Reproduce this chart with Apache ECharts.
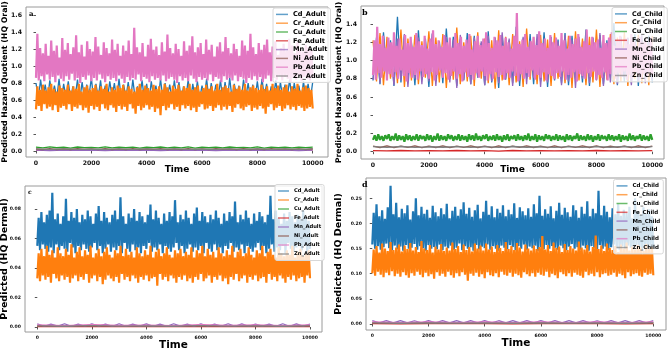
<!DOCTYPE html>
<html><head><meta charset="utf-8">
<script src="https://cdn.jsdelivr.net/npm/echarts@6/dist/echarts.min.js"></script>
<style>html,body{margin:0;padding:0;background:#fff}#c{width:668px;height:350px}</style>
</head><body><div id="c"></div><script>
// ---- tick labels ----
const xTicks = [0, 2000, 4000, 6000, 8000, 10000];
const aYTicks = [0.0, 0.2, 0.4, 0.6, 0.8, 1.0, 1.2, 1.4, 1.6];
const bYTicks = [0.0, 0.2, 0.4, 0.6, 0.8, 1.0, 1.2, 1.4];
const cYTicks = [0.00, 0.02, 0.04, 0.06, 0.08];
const dYTicks = [0.00, 0.05, 0.10, 0.15, 0.20, 0.25];
const metals = ['Cd', 'Cr', 'Cu', 'Fe', 'Mn', 'Ni', 'Pb', 'Zn'];

// ---- panel a: HQ Oral, Adult ----
const aCd = [0.80,0.61,0.84,0.63,0.78,0.60,0.83,0.64,0.77,0.62,0.85,0.59,0.79,0.63,0.82,0.61,0.76,0.64,0.84,0.60,0.81,0.62,0.78,0.65,0.86,0.61,0.79,0.63,0.83,0.60,0.77,0.62,0.82,0.64,0.80,0.59,0.85,0.61,0.78,0.63,0.81,0.60,0.84,0.62,0.76,0.64,0.83,0.61,0.79,0.58,0.82,0.63,0.77,0.60,0.85,0.62,0.80,0.64,0.78,0.61,0.83,0.63,0.81,0.60,0.76,0.62,0.84,0.59,0.79,0.63,0.82,0.61,0.77,0.64,0.85,0.60,0.80,0.62,0.78,0.63,0.83,0.61,0.81,0.59,0.86,0.62,0.79,0.64,0.77,0.60,0.84,0.63,0.80,0.61,0.78,0.62,0.82,0.60,0.85,0.64,0.79,0.61,0.76,0.63,0.83,0.60,0.81,0.62,0.78,0.64,0.84,0.61,0.80,0.63,0.77,0.60,0.82,0.62,0.79,0.61,0.81];
const aCr = [0.49,0.76,0.53,0.72,0.47,0.78,0.55,0.71,0.50,0.75,
 0.52,0.79,0.48,0.73,0.54,0.70,0.46,0.77,0.51,0.74,
 0.53,0.72,0.49,0.78,0.55,0.71,0.47,0.76,0.52,0.73,
 0.50,0.79,0.54,0.70,0.48,0.75,0.51,0.77,0.45,0.72,
 0.53,0.74,0.49,0.78,0.52,0.71,0.47,0.76,0.55,0.73,
 0.50,0.79,0.48,0.70,0.54,0.75,0.51,0.72,0.46,0.77,
 0.53,0.74,0.49,0.78,0.52,0.71,0.47,0.76,0.55,0.73,
 0.50,0.70,0.44,0.75,0.53,0.79,0.48,0.72,0.51,0.77,
 0.54,0.74,0.49,0.71,0.52,0.78,0.46,0.73,0.50,0.76,
 0.42,0.72,0.53,0.79,0.48,0.75,0.51,0.70,0.55,0.77,
 0.49,0.73,0.52,0.78,0.47,0.71,0.54,0.76,0.50,0.74,
 0.53,0.79,0.48,0.72,0.51,0.75,0.46,0.77,0.52,0.70,
 0.55,0.74,0.49,0.78,0.50,0.73,0.53,0.76,0.47,0.71,
 0.51,0.79,0.54,0.72,0.48,0.75,0.52,0.77,0.49,0.74,
 0.53,0.70,0.46,0.78,0.51,0.73,0.55,0.76,0.50,0.72,
 0.48,0.79,0.52,0.71,0.54,0.75,0.47,0.77,0.51,0.74,
 0.49,0.72,0.53,0.78,0.50,0.73,0.44,0.76,0.52,0.71,
 0.55,0.79,0.48,0.74,0.51,0.77,0.53,0.72,0.47,0.75,
 0.50,0.78,0.54,0.70,0.49,0.76,0.52,0.73,0.48,0.79,
 0.53,0.71,0.51,0.75,0.47,0.77,0.50,0.74,0.52,0.72,
 0.50];
const aCu = [0.045,0.036,0.048,0.038,0.044,0.035,0.047,0.039,0.043,0.036,0.049,0.037,0.045,0.038,0.046,0.035,0.044,0.039,0.047,0.036,0.045,0.037,0.048,0.035,0.044,0.038,0.046,0.036,0.047,0.039,0.043,0.037,0.048,0.035,0.045,0.038,0.046,0.036,0.044,0.039,0.045];
const aFe = [0.012,0.008,0.014,0.009,0.013,0.007,0.012,0.009,0.014,0.008,0.013,0.009,0.012,0.007,0.014,0.008,0.013,0.009,0.012,0.008,0.013];
const aMn = [0.010,0.006,0.011,0.007,0.012,0.006,0.010,0.008,0.011,0.006,0.012,0.007,0.010,0.006,0.011,0.008,0.012,0.007,0.010,0.006,0.011];
const aNi = [0.026,0.016,0.027,0.017,0.025,0.015,0.028,0.018,0.026,0.016,0.027,0.017,0.025,0.016,0.028,0.015,0.026,0.018,0.027,0.016,0.025,0.017,0.028,0.016,0.026,0.015,0.027,0.018,0.025,0.016,0.028,0.017,0.026,0.015,0.027,0.018,0.025,0.016,0.026,0.017,0.027];
const aPb = [0.86,1.38,0.83,1.21,0.88,1.15,0.82,1.26,0.90,1.12,
 0.84,1.30,0.87,1.18,0.81,1.24,0.89,1.10,0.85,1.33,
 0.82,1.19,0.88,1.27,0.84,1.14,0.91,1.22,0.83,1.36,
 0.86,1.16,0.80,1.25,0.87,1.11,0.84,1.29,0.89,1.20,
 0.82,1.17,0.86,1.34,0.83,1.23,0.90,1.13,0.85,1.28,
 0.81,1.21,0.88,1.15,0.84,1.31,0.86,1.19,0.82,1.26,
 0.89,1.12,0.85,1.24,0.80,1.18,0.87,1.30,0.83,1.14,
 0.86,1.45,0.84,1.22,0.90,1.16,0.82,1.27,0.87,1.11,
 0.85,1.25,0.81,1.32,0.88,1.19,0.84,1.23,0.86,1.13,
 0.83,1.28,0.89,1.17,0.82,1.37,0.85,1.21,0.87,1.15,
 0.84,1.26,0.80,1.20,0.88,1.12,0.83,1.29,0.86,1.18,
 0.82,1.24,0.89,1.35,0.85,1.16,0.81,1.22,0.87,1.27,
 0.84,1.14,0.86,1.31,0.83,1.19,0.90,1.25,0.82,1.11,
 0.87,1.23,0.85,1.28,0.81,1.17,0.88,1.34,0.84,1.21,
 0.86,1.15,0.83,1.26,0.89,1.20,0.82,1.12,0.87,1.30,
 0.85,1.24,0.80,1.18,0.86,1.38,0.84,1.22,0.88,1.14,
 0.83,1.27,0.87,1.19,0.81,1.25,0.85,1.31,0.89,1.16,
 0.82,1.23,0.86,1.29,0.84,1.13,0.88,1.21,0.83,1.26,
 0.87,1.18,0.85,1.32,0.81,1.24,0.86,1.15,0.84,1.28,
 0.89,1.20,0.82,1.17,0.87,1.25,0.85,1.22,0.83,1.19,
 0.86];
const aZn = [0.024,0.019,0.025,0.018,0.023,0.020,0.026,0.019,0.024,0.018,0.025,0.020,0.023,0.019,0.026,0.018,0.024,0.020,0.025,0.019,0.024];

// ---- panel b: HQ Oral, Child ----
const bCd = [0.78,1.25,0.74,1.31,0.80,1.22,0.72,1.48,0.76,1.28,0.81,1.20,0.73,1.33,0.79,1.24,0.71,1.29,0.77,1.21,0.75,1.35,0.80,1.26,0.72,1.23,0.78,1.30,0.74,1.27,0.81,1.19,0.73,1.32,0.76,1.25,0.70,1.28,0.79,1.22,0.75,1.37,0.72,1.24,0.80,1.29,0.74,1.21,0.77,1.31,0.71,1.26,0.78,1.23,0.75,1.30,0.73,1.27,0.80,1.20,0.76,1.34,0.72,1.25,0.79,1.28,0.74,1.22,0.81,1.41,0.73,1.26,0.77,1.24,0.75,1.29,0.72,1.21,0.78,1.27,0.76];
const bCr = [1.22,0.77,1.30,0.73,1.26,0.80,1.19,0.75,1.34,0.71,1.24,0.78,1.28,0.74,1.21,0.81,1.32,0.72,1.25,0.76,1.29,0.70,1.23,0.79,1.36,0.74,1.20,0.77,1.27,0.72,1.31,0.80,1.24,0.75,1.22,0.69,1.33,0.78,1.26,0.73,1.29,0.76,1.21,0.71,1.35,0.79,1.25,0.74,1.28,0.77,1.23,0.72,1.30,0.80,1.19,0.75,1.27,0.70,1.32,0.78,1.24,0.73,1.26,0.76,1.34,0.71,1.22,0.79,1.29,0.74,1.25,0.77,1.31,0.72,1.20,0.80,1.28,0.75,1.23,0.73,1.27];
const bCu = [0.13,0.18,0.12,0.19,0.13,0.17,0.12,0.18,0.14,0.19,
 0.12,0.17,0.13,0.20,0.12,0.18,0.13,0.17,0.11,0.19,
 0.13,0.18,0.12,0.17,0.13,0.19,0.12,0.18,0.14,0.17,
 0.12,0.19,0.13,0.18,0.11,0.17,0.13,0.20,0.12,0.18,
 0.13,0.17,0.12,0.19,0.14,0.18,0.12,0.17,0.13,0.19,
 0.12,0.18,0.13,0.17,0.11,0.19,0.13,0.18,0.12,0.20,
 0.13,0.17,0.12,0.18,0.14,0.19,0.12,0.17,0.13,0.18,
 0.12,0.19,0.13,0.17,0.11,0.18,0.13,0.19,0.12,0.17,
 0.14,0.18,0.12,0.19,0.13,0.17,0.12,0.18,0.13,0.20,
 0.12,0.17,0.13,0.19,0.11,0.18,0.13,0.17,0.12,0.19,
 0.14,0.18,0.12,0.17,0.13,0.19,0.12,0.18,0.13,0.17,
 0.11,0.19,0.13,0.18,0.12,0.17,0.14,0.20,0.12,0.18,
 0.13,0.17,0.12,0.19,0.13,0.18,0.11,0.17,0.13,0.19,
 0.12,0.18,0.14,0.17,0.12,0.19,0.13,0.18,0.12,0.17,
 0.13,0.19,0.11,0.18,0.13,0.17,0.12,0.20,0.13,0.18,
 0.12,0.17,0.14,0.19,0.12,0.18,0.13,0.17,0.12,0.19,
 0.13];
const bFe = [0.012,0.008,0.013,0.009,0.011,0.008,0.013,0.009,0.012,0.007,0.013,0.009,0.012,0.008,0.011,0.009,0.013,0.008,0.012,0.009,0.012];
const bMn = [0.79,1.20,0.75,1.27,0.82,1.16,0.73,1.24,0.78,1.29,0.71,1.18,0.80,1.25,0.74,1.22,0.77,1.30,0.72,1.19,0.81,1.26,0.76,1.23,0.70,1.28,0.79,1.17,0.74,1.25,0.82,1.21,0.73,1.27,0.77,1.20,0.75,1.31,0.80,1.24,0.72,1.18,0.78,1.26,0.74,1.22,0.81,1.29,0.71,1.19,0.76,1.25,0.79,1.21,0.73,1.28,0.77,1.23,0.70,1.26,0.80,1.18,0.75,1.24,0.78,1.30,0.72,1.20,0.76,1.27,0.74,1.22,0.81,1.25,0.73,1.19,0.77,1.28,0.75,1.23,0.79];
const bNi = [0.062,0.046,0.064,0.045,0.061,0.047,0.065,0.044,0.062,0.046,0.063,0.045,0.060,0.047,0.064,0.046,0.062,0.044,0.065,0.045,0.061,0.047,0.063,0.046,0.062,0.045,0.064,0.044,0.061,0.047,0.063,0.046,0.065,0.045,0.062,0.047,0.060,0.044,0.063,0.046,0.062];
const bPb = [0.84,1.22,0.79,1.37,0.86,1.18,0.81,1.27,0.88,1.14,
 0.78,1.25,0.85,1.20,0.82,1.31,0.87,1.16,0.80,1.24,
 0.89,1.12,0.83,1.28,0.77,1.19,0.86,1.26,0.81,1.15,
 0.84,1.30,0.79,1.21,0.88,1.17,0.82,1.27,0.85,1.13,
 0.80,1.24,0.87,1.33,0.78,1.18,0.84,1.22,0.89,1.15,
 0.81,1.28,0.86,1.20,0.79,1.25,0.83,1.14,0.88,1.30,
 0.80,1.19,0.85,1.26,0.77,1.16,0.87,1.23,0.82,1.29,
 0.84,1.12,0.79,1.21,0.86,1.27,0.81,1.17,0.88,1.24,
 0.83,1.31,0.78,1.19,0.85,1.14,0.80,1.26,0.87,1.22,
 0.82,1.28,0.84,1.16,0.79,1.25,0.86,1.20,0.81,1.13,
 0.88,1.27,0.83,1.52,0.77,1.18,0.85,1.23,0.80,1.29,
 0.86,1.15,0.82,1.21,0.89,1.26,0.79,1.17,0.84,1.32,
 0.81,1.19,0.87,1.24,0.78,1.14,0.85,1.28,0.83,1.20,
 0.80,1.25,0.86,1.16,0.82,1.30,0.88,1.22,0.79,1.13,
 0.84,1.27,0.81,1.18,0.87,1.24,0.77,1.29,0.85,1.15,
 0.83,1.21,0.80,1.34,0.86,1.17,0.82,1.26,0.88,1.20,
 0.79,1.23,0.84,1.14,0.81,1.28,0.87,1.19,0.78,1.25,
 0.85,1.31,0.83,1.16,0.80,1.22,0.86,1.27,0.82,1.13,
 0.88,1.24,0.79,1.18,0.84,1.29,0.81,1.21,0.87,1.15,
 0.83,1.26,0.80,1.20,0.85,1.23,0.82,1.17,0.86,1.25,
 0.84];
const bZn = [0.055,0.048,0.057,0.047,0.054,0.049,0.056,0.048,0.055,0.047,0.057,0.049,0.054,0.048,0.056,0.047,0.055,0.049,0.057,0.048,0.055];

// ---- panel c: HQ Dermal, Adult ----
const cCd = [0.055,0.074,0.052,0.078,0.056,0.071,0.053,0.076,0.051,0.079,
 0.054,0.091,0.050,0.073,0.056,0.077,0.052,0.070,0.055,0.075,
 0.053,0.087,0.051,0.072,0.057,0.078,0.054,0.074,0.050,0.080,
 0.055,0.071,0.052,0.076,0.056,0.073,0.053,0.079,0.051,0.075,
 0.054,0.070,0.057,0.077,0.052,0.082,0.055,0.072,0.050,0.078,
 0.053,0.074,0.056,0.071,0.051,0.076,0.054,0.079,0.052,0.073,
 0.055,0.088,0.050,0.075,0.057,0.070,0.053,0.077,0.051,0.074,
 0.056,0.080,0.052,0.072,0.054,0.078,0.050,0.075,0.055,0.071,
 0.053,0.076,0.057,0.083,0.051,0.073,0.054,0.079,0.052,0.074,
 0.056,0.070,0.050,0.077,0.055,0.072,0.053,0.078,0.051,0.075,
 0.054,0.086,0.057,0.071,0.052,0.076,0.055,0.073,0.050,0.079,
 0.053,0.074,0.056,0.070,0.051,0.077,0.054,0.081,0.052,0.072,
 0.055,0.078,0.050,0.075,0.057,0.071,0.053,0.076,0.051,0.073,
 0.056,0.079,0.052,0.074,0.054,0.070,0.050,0.077,0.055,0.072,
 0.053,0.078,0.057,0.075,0.051,0.085,0.054,0.071,0.052,0.076,
 0.056,0.073,0.050,0.079,0.055,0.074,0.053,0.070,0.051,0.077,
 0.054,0.072,0.057,0.078,0.052,0.075,0.055,0.071,0.050,0.076,
 0.053,0.089,0.056,0.073,0.051,0.079,0.054,0.074,0.052,0.070,
 0.055,0.077,0.050,0.072,0.057,0.078,0.053,0.075,0.051,0.071,
 0.054,0.076,0.056,0.073,0.052,0.079,0.055,0.074,0.050,0.072,
 0.053];
const cCr = [0.033,0.050,0.031,0.053,0.035,0.048,0.032,0.055,0.034,0.049,
 0.030,0.052,0.036,0.047,0.033,0.054,0.031,0.050,0.035,0.048,
 0.032,0.053,0.034,0.049,0.030,0.056,0.033,0.047,0.035,0.051,
 0.031,0.054,0.034,0.048,0.032,0.052,0.036,0.049,0.030,0.055,
 0.033,0.047,0.035,0.050,0.031,0.053,0.034,0.048,0.029,0.051,
 0.032,0.054,0.035,0.049,0.033,0.047,0.031,0.052,0.034,0.050,
 0.030,0.055,0.036,0.048,0.032,0.053,0.034,0.049,0.031,0.051,
 0.035,0.047,0.033,0.054,0.030,0.050,0.034,0.048,0.032,0.052,
 0.035,0.049,0.031,0.055,0.033,0.047,0.034,0.051,0.028,0.053,
 0.036,0.048,0.032,0.050,0.034,0.054,0.031,0.049,0.035,0.047,
 0.033,0.052,0.030,0.050,0.034,0.053,0.032,0.048,0.035,0.051,
 0.031,0.049,0.033,0.054,0.030,0.047,0.034,0.052,0.032,0.050,
 0.036,0.055,0.031,0.048,0.033,0.053,0.035,0.049,0.030,0.051,
 0.034,0.047,0.032,0.054,0.035,0.050,0.031,0.048,0.033,0.052,
 0.029,0.049,0.034,0.055,0.032,0.047,0.036,0.051,0.031,0.053,
 0.033,0.048,0.035,0.050,0.030,0.054,0.034,0.049,0.032,0.047,
 0.035,0.052,0.031,0.050,0.033,0.055,0.034,0.048,0.030,0.051,
 0.036,0.053,0.032,0.049,0.034,0.047,0.031,0.054,0.035,0.050,
 0.033,0.048,0.030,0.052,0.034,0.049,0.032,0.055,0.035,0.047,
 0.031,0.051,0.033,0.053,0.034,0.048,0.030,0.050,0.035,0.052,
 0.033];
const cCu = [0.0006,0.0004,0.0007,0.0004,0.0006,0.0005,0.0007,0.0004,0.0006,0.0005,0.0006];
const cFe = [0.0003,0.0002,0.0004,0.0002,0.0003,0.0002,0.0004,0.0003,0.0003,0.0002,0.0003];
const cMn = [0.0021,0.0005,0.0020,0.0006,0.0022,0.0004,0.0019,0.0005,0.0021,0.0006,0.0020,0.0004,0.0022,0.0005,0.0019,0.0006,0.0021,0.0004,0.0020,0.0005,0.0022,0.0006,0.0019,0.0004,0.0021,0.0005,0.0020,0.0006,0.0022,0.0004,0.0021,0.0005,0.0019,0.0006,0.0020,0.0004,0.0022,0.0005,0.0021,0.0006,0.0020];
const cNi = [0.0009,0.0006,0.0010,0.0007,0.0009,0.0006,0.0010,0.0007,0.0009,0.0006,0.0009];
const cPb = [0.0014,0.0009,0.0015,0.0010,0.0013,0.0009,0.0015,0.0010,0.0014,0.0009,0.0014];
const cZn = [0.0008,0.0005,0.0009,0.0006,0.0008,0.0005,0.0009,0.0006,0.0008,0.0005,0.0008];

// ---- panel d: HQ Dermal, Child ----
const dCd = [0.158,0.221,0.150,0.238,0.155,0.214,0.148,0.226,0.153,0.209,
 0.160,0.232,0.151,0.275,0.147,0.218,0.156,0.241,0.149,0.212,
 0.154,0.229,0.146,0.220,0.157,0.236,0.150,0.208,0.152,0.224,
 0.159,0.250,0.148,0.216,0.155,0.233,0.151,0.219,0.146,0.227,
 0.157,0.211,0.150,0.235,0.153,0.222,0.149,0.214,0.158,0.230,
 0.147,0.218,0.154,0.239,0.151,0.210,0.156,0.225,0.148,0.233,
 0.152,0.215,0.160,0.228,0.147,0.242,0.155,0.219,0.150,0.231,
 0.153,0.213,0.146,0.226,0.157,0.237,0.149,0.210,0.154,0.223,
 0.151,0.245,0.158,0.217,0.148,0.234,0.155,0.212,0.150,0.229,
 0.146,0.221,0.156,0.236,0.152,0.214,0.149,0.227,0.157,0.218,
 0.153,0.240,0.147,0.211,0.155,0.232,0.150,0.224,0.158,0.216,
 0.148,0.230,0.154,0.213,0.151,0.238,0.156,0.220,0.146,0.255,
 0.153,0.215,0.149,0.228,0.157,0.219,0.150,0.234,0.155,0.210,
 0.152,0.225,0.148,0.241,0.156,0.217,0.151,0.231,0.147,0.222,
 0.154,0.213,0.159,0.236,0.150,0.226,0.153,0.211,0.148,0.233,
 0.156,0.219,0.151,0.244,0.146,0.214,0.155,0.229,0.152,0.220,
 0.149,0.265,0.157,0.216,0.150,0.235,0.154,0.223,0.147,0.212,
 0.153,0.230,0.158,0.218,0.151,0.239,0.148,0.215,0.155,0.227,
 0.150,0.221,0.156,0.233,0.152,0.210,0.149,0.250,0.157,0.224,
 0.153,0.217,0.147,0.232,0.155,0.219,0.151,0.228,0.154,0.214,
 0.152];
const dCr = [0.101,0.148,0.096,0.155,0.104,0.142,0.098,0.160,0.093,0.150,
 0.102,0.145,0.097,0.163,0.105,0.147,0.095,0.152,0.100,0.158,
 0.094,0.144,0.103,0.156,0.097,0.149,0.092,0.161,0.101,0.146,
 0.096,0.153,0.104,0.143,0.098,0.165,0.093,0.150,0.102,0.147,
 0.095,0.157,0.099,0.142,0.090,0.154,0.103,0.148,0.096,0.159,
 0.100,0.145,0.094,0.152,0.104,0.146,0.097,0.162,0.092,0.149,
 0.101,0.155,0.095,0.143,0.103,0.158,0.098,0.147,0.086,0.153,
 0.100,0.144,0.096,0.160,0.102,0.150,0.094,0.156,0.099,0.146,
 0.091,0.160,0.103,0.148,0.097,0.154,0.095,0.143,0.101,0.157,
 0.093,0.151,0.104,0.145,0.098,0.163,0.096,0.149,0.102,0.155,
 0.094,0.147,0.100,0.161,0.097,0.152,0.092,0.144,0.103,0.158,
 0.099,0.150,0.095,0.146,0.101,0.156,0.094,0.149,0.102,0.153,
 0.098,0.175,0.096,0.148,0.104,0.157,0.093,0.145,0.100,0.162,
 0.097,0.151,0.091,0.154,0.103,0.143,0.099,0.159,0.095,0.147,
 0.101,0.155,0.094,0.150,0.102,0.146,0.098,0.164,0.096,0.152,
 0.092,0.148,0.104,0.157,0.097,0.144,0.100,0.153,0.095,0.176,
 0.103,0.149,0.093,0.156,0.099,0.145,0.101,0.160,0.096,0.151,
 0.098,0.147,0.102,0.155,0.094,0.143,0.100,0.158,0.097,0.150,
 0.091,0.162,0.103,0.146,0.095,0.154,0.099,0.148,0.101,0.157,
 0.096,0.152,0.094,0.145,0.102,0.159,0.098,0.149,0.100,0.153,
 0.097];
const dCu = [0.0016,0.0011,0.0017,0.0012,0.0016,0.0011,0.0017,0.0012,0.0016,0.0011,0.0016];
const dFe = [0.0008,0.0005,0.0009,0.0006,0.0008,0.0005,0.0009,0.0006,0.0008,0.0005,0.0008];
const dMn = [0.0068,0.0022,0.0066,0.0024,0.0069,0.0021,0.0065,0.0023,0.0068,0.0022,0.0067,0.0024,0.0069,0.0021,0.0066,0.0023,0.0068,0.0022,0.0065,0.0024,0.0069,0.0021,0.0067,0.0023,0.0068,0.0022,0.0066,0.0024,0.0069,0.0021,0.0068,0.0023,0.0065,0.0022,0.0067,0.0024,0.0069,0.0021,0.0066,0.0023,0.0068];
const dNi = [0.0026,0.0018,0.0027,0.0019,0.0026,0.0018,0.0027,0.0019,0.0026,0.0018,0.0026];
const dPb = [0.0040,0.0028,0.0041,0.0029,0.0040,0.0028,0.0041,0.0029,0.0040,0.0028,0.0040];
const dZn = [0.0022,0.0015,0.0023,0.0016,0.0022,0.0015,0.0023,0.0016,0.0022,0.0015,0.0022];

// ---- build chart ----
const palette = ['#1f77b4','#ff7f0e','#2ca02c','#d62728','#9467bd','#8c564b','#e377c2','#7f7f7f'];
const FONT = 'DejaVu Sans';
const panels = [
  {letter:'a', suffix:'_Adult', vals:[aCd,aCr,aCu,aFe,aMn,aNi,aPb,aZn],
   grid:{left:26, top:7, width:302, height:150}, xr:[-361,10553], yr:[-0.0706,1.694], yt:aYTicks, dec:1,
   yname:'Predicted Hazard Quotient (HQ Oral)', ynameSize:7.8, ynameGap:17, tick:6.2, tname:9, tgap:8,
   legend:{left:273, top:8, font:6.6, lh:8.8, iw:12}, letterPos:[29,11], letterSize:7},
  {letter:'b', suffix:'_Child', vals:[bCd,bCr,bCu,bFe,bMn,bNi,bPb,bZn],
   grid:{left:361, top:6, width:303, height:153}, xr:[-430,10419], yr:[-0.080,1.597], yt:bYTicks, dec:1,
   yname:'Predicted Hazard Quotient (HQ Oral)', ynameSize:7.8, ynameGap:18, tick:6.2, tname:9, tgap:6.5,
   legend:{left:612, top:7.5, font:6.4, lh:8.8, iw:12}, letterPos:[362,9], letterSize:8},
  {letter:'c', suffix:'_Adult', vals:[cCd,cCr,cCu,cFe,cMn,cNi,cPb,cZn],
   grid:{left:25, top:186, width:297, height:146}, xr:[-451,10440], yr:[-0.0034,0.0956], yt:cYTicks, dec:2,
   yname:'Predicted (HQ Dermal)', ynameSize:9.5, ynameGap:15, tick:4.6, tname:10.5, tgap:8,
   legend:{left:275, top:184.5, font:5.2, lh:9, iw:11}, letterPos:[28,189], letterSize:6},
  {letter:'d', suffix:'_Child', vals:[dCd,dCr,dCu,dFe,dMn,dNi,dPb,dZn],
   grid:{left:366, top:178, width:300, height:152}, xr:[-224,10452], yr:[-0.0119,0.2904], yt:dYTicks, dec:2,
   yname:'Predicted (HQ Dermal)', ynameSize:9.5, ynameGap:22, tick:4.6, tname:10.5, tgap:8,
   legend:{left:613.5, top:179.5, font:5.5, lh:8.8, iw:11}, letterPos:[362,181], letterSize:8}
];

const option = {animation:false, backgroundColor:'#fff', grid:[], xAxis:[], yAxis:[], legend:[], series:[], graphic:[]};
panels.forEach((p, k) => {
  option.grid.push(Object.assign({show:true, borderColor:'#9a9a9a', borderWidth:1, backgroundColor:'#fff',
    containLabel:false, outerBoundsMode:'none'}, p.grid));
  option.xAxis.push({type:'value', gridIndex:k, min:p.xr[0], max:p.xr[1],
    name:'Time', nameLocation:'middle', nameGap:p.tgap, nameMoveOverlap:false,
    nameTextStyle:{fontFamily:FONT, fontWeight:'bold', fontSize:p.tname, color:'#000', verticalAlign:'top'},
    axisLine:{show:false}, splitLine:{show:false},
    axisTick:{show:true, length:2.5, lineStyle:{color:'#555'}, customValues:xTicks},
    axisLabel:{fontFamily:FONT, fontWeight:'bold', fontSize:p.tick, color:'#111', margin:3, customValues:xTicks,
      formatter:v => String(v)}});
  option.yAxis.push({type:'value', gridIndex:k, min:p.yr[0], max:p.yr[1],
    name:p.yname, nameLocation:'middle', nameGap:p.ynameGap, nameRotate:90, nameMoveOverlap:false,
    nameTextStyle:{fontFamily:FONT, fontWeight:'bold', fontSize:p.ynameSize, color:'#000'},
    axisLine:{show:false}, splitLine:{show:false},
    axisTick:{show:true, length:2.5, lineStyle:{color:'#555'}, customValues:p.yt},
    axisLabel:{fontFamily:FONT, fontWeight:'bold', fontSize:p.tick, color:'#111', margin:4, customValues:p.yt,
      formatter:v => Number(v).toFixed(p.dec)}});
  const names = metals.map(m => m + p.suffix);
  option.legend.push({data:names, orient:'vertical', left:p.legend.left, top:p.legend.top,
    icon:'rect', itemWidth:p.legend.iw, itemHeight:1.5, itemGap:0,
    padding:[2,3,2,3], backgroundColor:'rgba(255,255,255,0.8)', borderColor:'#d8d8d8', borderWidth:1, borderRadius:2,
    itemStyle:{opacity:0.7},
    textStyle:{fontFamily:FONT, fontWeight:'bold', fontSize:p.legend.font, color:'#000', lineHeight:p.legend.lh},
    selectedMode:false});
  p.vals.forEach((vals, j) => {
    const n = vals.length;
    option.series.push({type:'line', name:names[j], xAxisIndex:k, yAxisIndex:k,
      data: vals.map((v, i) => [i * 10000 / (n - 1), v]),
      showSymbol:false, symbol:'none', silent:true,
      lineStyle:{width:n > 150 ? 2.2 : 1.3, color:palette[j], opacity:1}, itemStyle:{color:palette[j]}});
  });
  option.graphic.push({type:'text', left:p.letterPos[0], top:p.letterPos[1], z:100,
    style:{text:p.letter, font:'bold ' + p.letterSize + 'px "DejaVu Serif", serif', fill:'#000'}});
});
const chart = echarts.init(document.getElementById('c'));
chart.setOption(option);
</script></body></html>
